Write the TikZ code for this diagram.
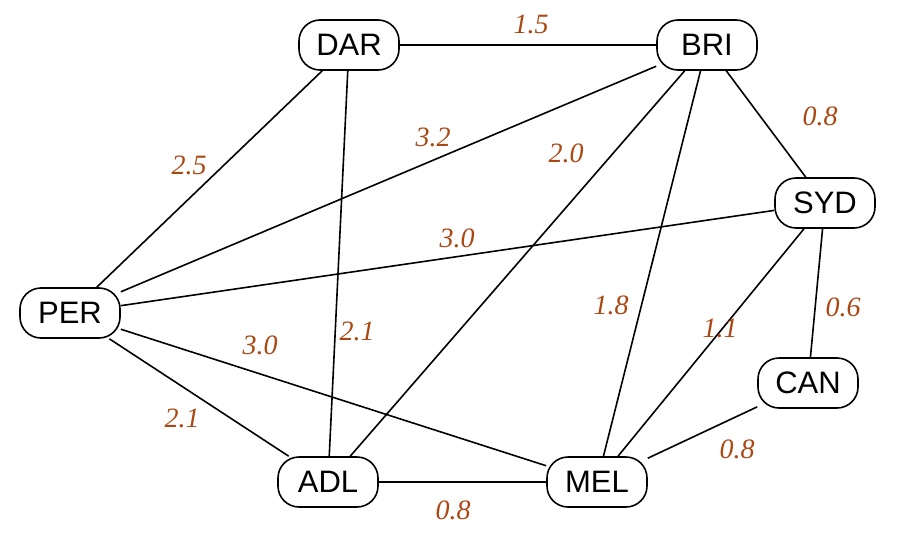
\documentclass[tikz,border=0pt]{standalone}
\usepackage{fontspec}
\setmainfont{Liberation Serif}
\newfontfamily\citysans{Liberation Sans}
\begin{document}
\begin{tikzpicture}[x=1pt,y=-1pt,
  city/.style={draw=black, line width=1.6pt, rounded corners=21pt,
    minimum width=100pt, minimum height=50pt, inner sep=0pt,
    font=\citysans\fontsize{31}{33}\selectfont, fill=white},
  road/.style={draw=black, line width=1.6pt},
  dist/.style={text=distbrown, font=\itshape\fontsize{28}{30}\selectfont, inner sep=0pt}]
\definecolor{distbrown}{RGB}{170,72,20}
\useasboundingbox (0,0) rectangle (899,551);

% cities
\node[city] (DAR) at (349,45) {DAR};
\node[city] (BRI) at (707,45) {BRI};
\node[city] (SYD) at (825,203) {SYD};
\node[city] (PER) at (70,313) {PER};
\node[city] (CAN) at (808,383) {CAN};
\node[city] (ADL) at (328,482) {ADL};
\node[city] (MEL) at (597,482) {MEL};

% roads
\draw[road] (DAR) -- (BRI);
\draw[road] (DAR) -- (PER);
\draw[road] (DAR) -- (ADL);
\draw[road] (BRI) -- (SYD);
\draw[road] (BRI) -- (PER);
\draw[road] (BRI) -- (ADL);
\draw[road] (BRI) -- (MEL);
\draw[road] (SYD) -- (PER);
\draw[road] (SYD) -- (CAN);
\draw[road] (SYD) -- (MEL);
\draw[road] (PER) -- (ADL);
\draw[road] (PER) -- (MEL);
\draw[road] (ADL) -- (MEL);
\draw[road] (CAN) -- (MEL);

% distances
\node[dist] (dDB) at (531,24) {1.5};
\node[dist] (dBS) at (820,116) {0.8};
\node[dist] (dDP) at (189,165) {2.5};
\node[dist] (dBP) at (433,137) {3.2};
\node[dist] (dBA) at (566,153) {2.0};
\node[dist] (dSP) at (457,238) {3.0};
\node[dist] (dBM) at (611,305) {1.8};
\node[dist] (dSM) at (720,328) {1.1};
\node[dist] (dSC) at (843,307) {0.6};
\node[dist] (dPM) at (260,345) {3.0};
\node[dist] (dDA) at (357,331) {2.1};
\node[dist] (dPA) at (182,418) {2.1};
\node[dist] (dCM) at (737,449) {0.8};
\node[dist] (dAM) at (453,510) {0.8};
\end{tikzpicture}
\end{document}
